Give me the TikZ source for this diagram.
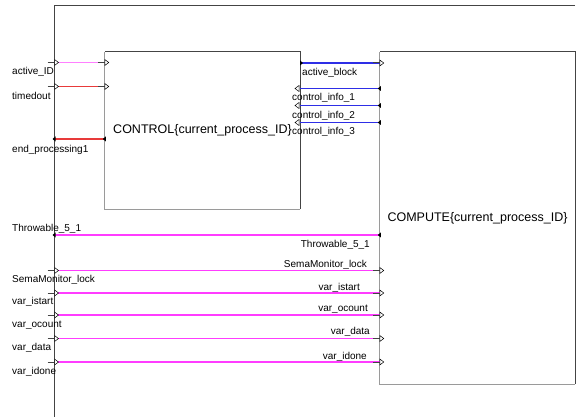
\documentclass[tikz,border=0pt]{standalone}
\usepackage{fontspec}
\setmainfont{Liberation Sans}
\usetikzlibrary{arrows.meta, positioning, calc}

\definecolor{sigpink}{HTML}{FF3CFF}
\definecolor{sigpinkL}{HTML}{FF80FF}
\definecolor{sigred}{HTML}{E83A3A}
\definecolor{sigblue}{HTML}{2E2EE6}
\definecolor{edgeD}{HTML}{444444}
\definecolor{edgeL}{HTML}{9A9A9A}

\begin{document}
\begin{tikzpicture}[
  x=1pt, y=-1pt,
  block/.style = {rectangle, inner sep=0pt, minimum width=195pt, font=\fontsize{12.5}{15}\selectfont},
  lbl/.style   = {inner sep=0pt, font=\fontsize{10}{12}\selectfont},
  wire/.style  = {line width=1.2pt, draw=#1},
  pics/inport/.style = {code={
      \draw[edgeD, line width=1pt] (-7,0) -- (0,0);
      \draw[black, fill=white, line width=0.5pt] (0,-3) -- (4,0) -- (0,3) -- cycle;}},
  pics/openL/.style  = {code={
      \draw[black, fill=white, line width=0.5pt] (0,-3) -- (-4,0) -- (0,3) -- cycle;}},
  pics/tipL/.style   = {code={\fill[black] (0,0) -- (3,-2.5) -- (3,2.5) -- cycle;}},
  pics/tipR/.style   = {code={\fill[black] (0,0) -- (-3,-2.5) -- (-3,2.5) -- cycle;}},
]
\useasboundingbox (0,0) rectangle (579,417);

%── Frame ─────────────────────────────────────────────────────────────────────
\draw[edgeD, line width=1pt] (575,5.5) -- (54.5,5.5) -- (54.5,417);

%── Blocks ────────────────────────────────────────────────────────────────────
\node[block, minimum height=157pt] (ctrl) at (202.5,130.5) {CONTROL\{current\_process\_ID\}};
\node[block, minimum height=332pt] (comp) at (477.5,218)   {COMPUTE\{current\_process\_ID\}};

\foreach \b in {ctrl, comp} {
  \draw[edgeL, line width=1.2pt] (\b.north west) -- (\b.south west) -- (\b.south east);
  \draw[edgeD, line width=1pt] (\b.south east) -- (\b.north east) -- (\b.north west);
}

%── Port coordinates (left frame) ─────────────────────────────────────────────
\coordinate (pact)  at (54.5, 62.5);
\coordinate (ptime) at (54.5, 86.5);
\coordinate (pend)  at (54.5,139);
\coordinate (pthr)  at (54.5,235);
\coordinate (psema) at (54.5,270.5);
\coordinate (pist)  at (54.5,293);
\coordinate (poc)   at (54.5,315);
\coordinate (pdat)  at (54.5,338.5);
\coordinate (pidn)  at (54.5,362);

% control -> compute rows
\coordinate (qblk)  at (300, 63);
\coordinate (qci1)  at (300, 88.5);
\coordinate (qci2)  at (300,105.5);
\coordinate (qci3)  at (300,122.5);

%── Frame -> CONTROL wires ────────────────────────────────────────────────────
\draw[wire=sigpinkL] (pact)  -- (pact  -| ctrl.west);
\draw[wire=sigred]   (ptime) -- (ptime -| ctrl.west);
\draw[wire=sigred]   (pend -| ctrl.west) -- (pend);

\pic at (pact)  {inport};
\pic at (ptime) {inport};
\pic at (pact  -| ctrl.west) {inport};
\pic at (ptime -| ctrl.west) {inport};
\pic at ($(pend)+(-2,0)$)              {tipL};
\pic at ($(pend -| ctrl.west)+(-2,0)$) {tipL};

%── CONTROL <-> COMPUTE wires ─────────────────────────────────────────────────
\draw[wire=sigblue] (qblk) -- (qblk -| comp.west);
\foreach \q in {qci1, qci2, qci3} {
  \draw[wire=sigblue] (\q -| comp.west) -- (\q);
  \pic at ($(\q)+(-1,0)$)              {openL};
  \pic at ($(\q -| comp.west)+(-2,0)$) {tipL};
}
\pic at ($(qblk)+(3,0)$) {tipR};
\pic at (qblk -| comp.west) {inport};

%── Frame <-> COMPUTE wires ───────────────────────────────────────────────────
\draw[wire=sigpink]  (pthr -| comp.west) -- (pthr);
\pic at ($(pthr)+(-2,0)$)              {tipL};
\pic at ($(pthr -| comp.west)+(-2,0)$) {tipL};

\foreach \p in {psema, pist, poc, pdat, pidn} {
  \draw[wire=sigpink] (\p) -- (\p -| comp.west);
  \pic at (\p) {inport};
  \pic at (\p -| comp.west) {inport};
}

%── Labels ────────────────────────────────────────────────────────────────────
\node[lbl, anchor=west] (lact)  at (12, 72)  {active\_ID};
\node[lbl, anchor=west] (ltime) at (12, 96)  {timedout};
\node[lbl, anchor=west] (lend)  at (12,150)  {end\_processing1};
\node[lbl, anchor=west] (lthr)  at (12,229)  {Throwable\_5\_1};
\node[lbl, anchor=west] (lsema) at (12,280)  {SemaMonitor\_lock};
\node[lbl, anchor=west] (list)  at (12,302)  {var\_istart};
\node[lbl, anchor=west] (loc)   at (12,325)  {var\_ocount};
\node[lbl, anchor=west] (ldat)  at (12,348)  {var\_data};
\node[lbl, anchor=west] (lidn)  at (12,372)  {var\_idone};

\node[lbl, anchor=west] (rblk)  at (302, 73) {active\_block};
\node[lbl, anchor=west] (rci1)  at (292, 98) {control\_info\_1};
\node[lbl, anchor=west] (rci2)  at (292,116) {control\_info\_2};
\node[lbl, anchor=west] (rci3)  at (292,132) {control\_info\_3};

\node[lbl, anchor=east] (rthr)  at (370,245) {Throwable\_5\_1};
\node[lbl, anchor=east] (rsema) at (367,265) {SemaMonitor\_lock};
\node[lbl, anchor=east] (rist)  at (360,288) {var\_istart};
\node[lbl, anchor=east] (roc)   at (368,309) {var\_ocount};
\node[lbl, anchor=east] (rdat)  at (370,332) {var\_data};
\node[lbl, anchor=east] (ridn)  at (367,357) {var\_idone};

\end{tikzpicture}
\end{document}
